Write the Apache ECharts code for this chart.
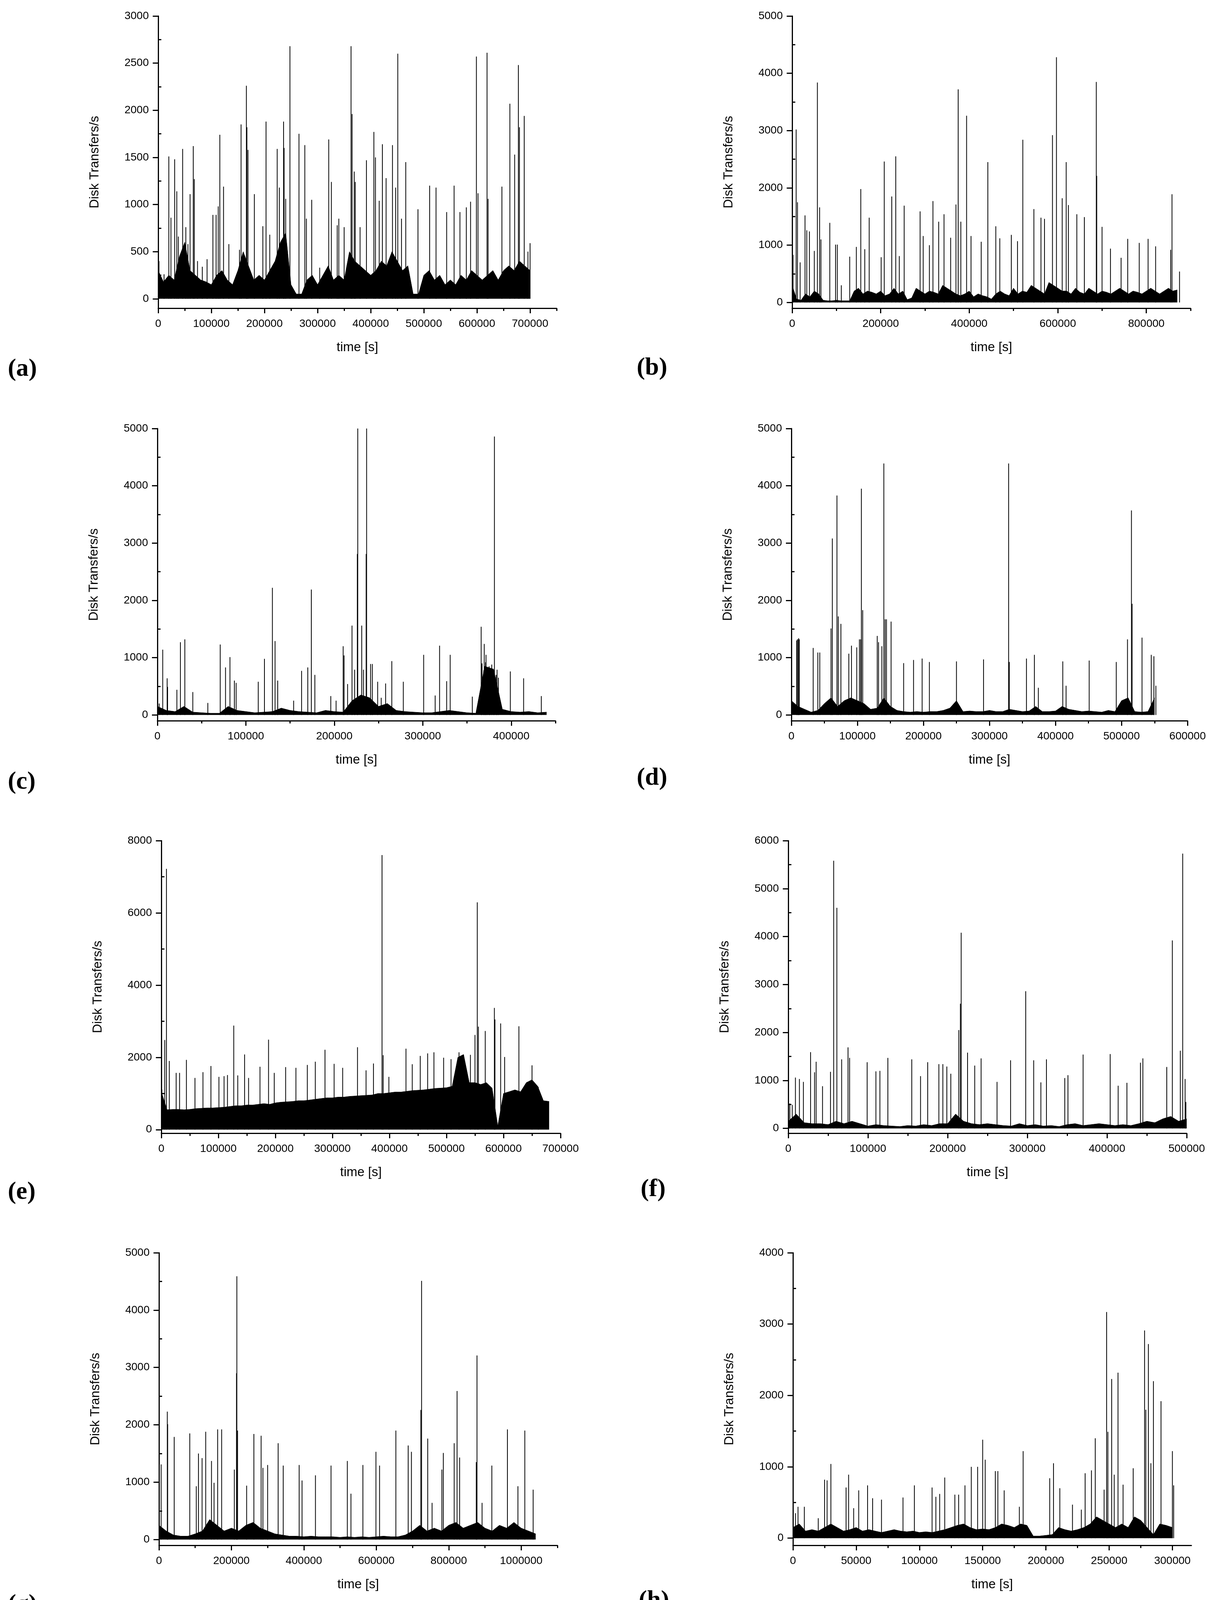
<!DOCTYPE html>
<html><head><meta charset="utf-8">
<script src="https://cdn.jsdelivr.net/npm/echarts@6/dist/echarts.min.js"></script>
<style>html,body{margin:0;padding:0;background:#fff}#c{width:3090px;height:5215px}</style>
</head><body><div id="c"></div>
<script>
// ---- data (time in s, value in Disk Transfers/s) ----
const aT=[1500,11000,20000,24000,31000,35000,38000,46000,52000,56000,60000,66000,68000,74000,83000,92000,103000,109000,113000,116000,123000,133000,153000,156000,166000,167000,169000,181000,197000,203000,210000,224000,228000,236000,237000,240000,248000,265000,276000,279000,289000,304000,321000,326000,337000,340000,350000,363000,365000,369000,371000,380000,392000,406000,409000,416000,422000,429000,441000,447000,451000,458000,466000,489000,511000,523000,543000,557000,568000,580000,588000,599000,602000,619000,621000,647000,662000,671000,678000,680000,689000,696000,700000];
const aV=[400,260,1510,860,1480,1140,660,1590,760,580,1110,1620,1270,400,340,420,890,890,980,1740,1190,580,520,1850,2260,1820,1580,1110,770,1880,680,1590,1180,1880,1600,1060,2680,1750,1630,850,1050,330,1690,1240,780,850,760,2680,1960,1350,1240,760,1470,1770,1500,1040,1640,1280,1630,1180,2600,850,1450,950,1200,1180,920,1200,920,970,1030,2570,1120,2610,1060,1190,2070,1530,2480,1820,1940,500,590];
const aBand=[300,180,250,200,450,600,300,250,200,180,150,250,300,200,150,300,500,350,200,250,200,300,400,600,700,150,50,50,200,250,150,250,350,200,250,200,500,400,350,300,250,300,400,350,500,400,300,350,50,50,250,300,200,250,150,200,150,250,200,300,250,200,250,300,200,300,350,300,400,350,300];

const bT=[2000,9000,12000,18000,29000,33000,39000,50000,57000,62000,65000,85000,98000,102000,111000,130000,145000,155000,164000,174000,201000,208000,225000,234000,242000,253000,289000,296000,310000,318000,331000,343000,358000,370000,375000,381000,394000,404000,427000,442000,460000,469000,495000,509000,521000,546000,562000,570000,588000,597000,610000,619000,624000,643000,660000,687000,688000,700000,719000,743000,758000,784000,804000,821000,855000,858000,875000];
const bV=[830,3020,1750,700,1520,1260,1240,900,3840,1660,1100,1390,1010,1010,300,800,970,1980,930,1480,790,2460,1850,2550,810,1690,1590,1160,1000,1770,1410,1540,1130,1710,3720,1410,3260,1160,1060,2450,1330,1120,1180,1070,2840,1630,1480,1460,2920,4280,1820,2450,1700,1540,1490,3850,2210,1320,940,780,1110,1040,1110,980,920,1890,540];
const bBand=[300,60,40,150,100,200,150,40,30,30,40,30,30,30,200,250,150,200,180,150,200,120,150,250,150,200,50,80,250,200,150,200,180,150,300,250,200,150,120,150,200,100,150,120,100,60,150,200,150,120,250,150,200,180,300,250,200,150,350,300,250,200,200,150,250,180,150,250,200,150,200,180,150,200,250,200,150,200,180,150,200,250,200,150,200,250,200,220];

const cT=[2000,6000,11000,11500,22000,26000,31000,40000,57000,71000,77000,82000,87000,89000,114000,121000,130000,133000,136000,154000,163000,170000,174000,178000,196000,202000,210000,211000,215000,220000,223000,226000,226500,231000,233000,236000,236500,241000,243000,249000,253000,258000,265000,278000,301000,314000,319000,327000,331000,356000,366000,367000,369000,369500,371000,371500,373000,375000,376000,378000,380000,381000,383000,384000,385500,399000,414000,434000];
const cV=[200,1140,640,490,440,1270,1320,400,210,1230,830,1010,600,560,580,980,2220,1290,600,250,770,830,2190,700,330,250,1200,1040,540,1560,790,2810,5000,1560,790,2810,5000,890,890,580,300,550,940,580,1050,340,1210,590,1050,320,1540,900,780,1240,920,1050,700,850,770,880,600,4860,700,790,650,760,640,330];
const cBand=[150,80,60,150,50,40,30,30,150,80,60,40,50,60,120,80,60,50,40,80,60,50,250,350,300,150,200,80,60,50,40,40,60,80,60,40,30,850,800,100,60,50,60,40,50];

const dT=[8000,9000,10500,11000,12000,33000,40000,43000,60000,62000,69000,71000,75000,87000,91000,99000,103000,105000,106000,108000,130000,132000,137000,140000,142000,144000,151000,170000,185000,198000,209000,250000,291000,329000,330000,356000,368000,374000,411000,416000,451000,492000,509000,515000,516000,531000,545000,549000,552000];
const dV=[1300,1320,1320,1340,1320,1170,1090,1090,1510,3080,3830,1720,1590,1070,1210,1180,1320,1320,3950,1830,1380,1270,1200,4390,1670,1670,1630,905,960,985,925,935,970,4390,925,985,1050,475,935,510,950,925,1320,3570,1940,1350,1050,1025,510];
const dBand=[250,150,100,50,80,200,300,150,250,300,250,200,100,120,300,150,80,60,50,60,50,60,60,80,120,250,60,70,60,60,80,60,60,100,80,60,70,150,60,60,70,150,100,80,60,70,60,50,80,60,250,300,60,50,60,300];

const eT=[1000,6000,9000,14000,26000,32000,44000,59000,73000,87000,101000,110000,116000,127000,134000,146000,153000,173000,188000,198000,218000,236000,256000,270000,287000,303000,318000,344000,359000,372000,387000,389000,399000,429000,440000,454000,467000,478000,495000,508000,522000,542000,550000,554000,556000,568000,584000,585000,595000,602000,627000,650000,661000];
const eV=[1110,2480,7220,1900,1570,1570,1930,1430,1590,1760,1460,1480,1510,2880,1500,2080,1430,1740,2490,1570,1730,1710,1790,1880,2210,1820,1710,2280,1640,1830,7600,2060,1460,2240,1810,2040,2110,2140,1990,1950,2140,2070,2620,6290,2850,2730,3370,3050,2940,2010,2860,1780,1180];
const eBand=[1050,550,560,560,550,560,580,590,600,600,610,620,640,660,660,680,680,700,720,700,740,760,770,780,800,800,820,840,860,880,880,900,900,920,930,940,950,960,1000,1000,1020,1040,1040,1060,1080,1090,1100,1120,1140,1150,1160,1200,2000,2080,1300,1300,1250,1300,1150,100,1000,1050,1100,1050,1300,1380,1200,800,780];

const fT=[2000,5000,9000,14000,19000,28000,33000,35000,43000,53000,57000,61000,67000,75000,77000,99000,110000,115000,125000,155000,166000,175000,189000,194000,199000,204000,214000,216000,217000,225000,234000,242000,262000,279000,298000,308000,317000,324000,347000,351000,370000,404000,414000,425000,442000,445000,475000,482000,492000,495000,498000,499000];
const fV=[520,490,1060,1030,970,1590,1170,1390,880,1180,5580,4600,1440,1690,1470,1380,1190,1200,1470,1440,1090,1380,1340,1340,1290,1140,2050,2600,4080,1580,1310,1460,970,1420,2860,1420,960,1440,1050,1110,1540,1550,890,950,1370,1460,1280,3920,1620,5730,1030,550];
const fBand=[150,300,120,100,100,80,150,100,150,100,50,80,60,50,40,60,50,80,60,100,100,300,150,100,80,100,80,60,50,100,60,80,50,60,40,80,100,60,80,100,80,60,80,60,100,150,120,200,250,150,200];

const gT=[6000,23000,24000,42000,85000,103000,109000,119000,129000,145000,152000,162000,173000,208000,214000,215000,217000,242000,262000,282000,287000,300000,329000,343000,387000,395000,432000,475000,520000,530000,563000,599000,609000,654000,688000,697000,723000,725000,742000,754000,781000,785000,815000,823000,830000,876000,878000,892000,919000,962000,991000,1010000,1033000];
const gV=[1310,2230,2010,1790,1850,930,1500,1420,1880,1370,990,1920,1920,1220,2900,4590,1900,940,1840,1810,1250,1300,1680,1290,1300,1030,1120,1290,1370,800,1300,1530,1290,1900,1640,1530,2260,4510,1760,640,1220,1510,1680,2590,1430,1350,3210,640,1290,1920,930,1900,870];
const gBand=[250,150,80,60,60,100,150,350,250,150,200,150,250,300,200,150,100,80,60,60,50,60,50,50,50,40,50,40,50,40,50,60,50,50,80,150,250,150,200,150,250,300,200,250,300,200,150,250,200,300,200,150,100];

const hT=[2000,4000,9000,20000,25000,27000,30000,42000,44000,48000,52000,59000,63000,70000,87000,96000,110000,113000,116000,120000,128000,131000,136000,141000,146000,150000,152000,160000,162000,167000,179000,182000,203000,206000,211000,221000,228000,231000,236000,239000,246000,248000,249000,252000,254000,257000,261000,269000,278000,279000,281000,283000,285000,291000,300000,301000];
const hV=[350,440,440,280,820,810,1040,710,890,420,670,740,560,540,570,740,710,580,620,850,610,610,740,1000,1000,1380,1100,940,940,670,440,1220,840,1050,700,470,400,910,950,1400,680,3170,1490,2230,890,2320,750,980,2910,1800,2720,1050,2200,1920,1220,740];
const hBand=[150,200,100,120,100,150,200,150,100,120,150,100,120,100,80,100,120,100,90,100,80,90,80,100,120,150,180,200,150,120,130,120,150,200,180,150,200,180,30,30,40,50,150,120,100,120,150,200,300,250,200,150,200,150,300,250,150,50,200,180,150];

const iT=[1000,11000,25000,31000,58000,70000,88000,102000,109000,119000,124000,128000,144000,147000,150000,170000,180000,190000,204000,221000,223000,234000,255000,278000,285000,293000,301000,307000,327000,334000,342000,362000,370000,377000,383000,396000,402000,417000,426000,435000,461000,466000,475000,486000,509000,528000,561000,582000,611000,623000,639000,659000,672000,677000,691000];
const iV=[1770,1370,1600,1730,1660,860,1360,910,1320,1390,1130,1320,1490,5000,820,1040,1660,1960,1240,2070,2900,1500,1410,1530,1520,2380,2490,1020,1790,1090,920,1200,1660,2320,1650,1470,1840,1440,2200,1650,1630,2170,1670,1650,2110,1130,1400,1510,1040,2320,1850,1290,2030,1290,560];
const iBand=[500,200,150,100,200,150,180,150,200,150,180,150,200,250,150,100,150,200,150,100,200,150,200,250,150,200,250,200,150,250,300,250,200,150,200,250,200,300,400,350,50,150,200,150,200,250,200,250,200,150,200,150,200,150,250,150,200,150,200,150,250,300,200,150,200,250,300,200,150,100];

const jT=[5000,12000,20000,26000,34000,61000,65000,75000,83000,95000,105000,126000,144000,158000,160000,169000,170000,180000,184000,191000,198000,203000,210000,242000,249000,259000,268000,291000,299000,320000,325000,342000,346000,355000,371000,389000,400000,411000,415000,433000,459000,463000,480000,488000,497000,499000,510000,517000];
const jV=[1010,2070,4050,1350,1370,2220,1390,1160,1160,960,5540,2070,1370,2130,3190,8000,4520,4610,1100,3860,2000,960,1010,1350,5000,2250,1500,1210,1280,4570,1370,4210,2810,1510,1320,1780,2000,4450,1680,3490,1640,4100,2420,1460,5220,1640,1420,2060];
const jBand=[80,200,60,250,60,50,60,50,50,60,60,50,80,60,50,60,80,50,70,60,50,60,60,50,80,100,200,300,250,500,600,700,800,600,700,800,500,600,400,900,1000,800,700,300,50,50,800,1000,900,300,200,250,150];

// ---- layout / config ----
const P=[
 {n:'(a)',T:aT,V:aV,B:aBand,st:10000,xMax:750000,xMaj:100000,yMax:3000,yMaj:500,g:[405,41,1425,789],lb:[20,951]},
 {n:'(b)',T:bT,V:bV,B:bBand,st:10000,xMax:900000,xMaj:200000,yMax:5000,yMaj:1000,g:[2028,41,3048,789],lb:[1630,948]},
 {n:'(c)',T:cT,V:cV,B:cBand,st:10000,xMax:450000,xMaj:100000,yMax:5000,yMaj:1000,g:[403,1097,1422,1845],lb:[20,2008]},
 {n:'(d)',T:dT,V:dV,B:dBand,st:10000,xMax:600000,xMaj:100000,yMax:5000,yMaj:1000,g:[2026,1097,3045,1845],lb:[1630,1998]},
 {n:'(e)',T:eT,V:eV,B:eBand,st:10000,xMax:700000,xMaj:100000,yMax:8000,yMaj:2000,g:[413,2152,1435,2901],lb:[20,3058]},
 {n:'(f)',T:fT,V:fV,B:fBand,st:10000,xMax:500000,xMaj:100000,yMax:6000,yMaj:1000,g:[2018,2152,3038,2901],lb:[1640,3051]},
 {n:'(g)',T:gT,V:gV,B:gBand,st:20000,xMax:1100000,xMaj:200000,yMax:5000,yMaj:1000,g:[407,3207,1427,3956],lb:[20,4114]},
 {n:'(h)',T:hT,V:hV,B:hBand,st:5000,xMax:315000,xMaj:50000,yMax:4000,yMaj:1000,g:[2030,3207,3050,3956],lb:[1635,4104]},
 {n:'(i)',T:iT,V:iV,B:iBand,st:10000,xMax:750000,xMaj:100000,yMax:5000,yMaj:1000,g:[409,4266,1429,5015],lb:[40,5169]},
 {n:'(j)',T:jT,V:jV,B:jBand,st:10000,xMax:550000,xMaj:100000,yMax:8000,yMaj:2000,g:[2009,4266,3029,5015],lb:[1640,5166]}
];
const FONT='"Liberation Sans", Arial, sans-serif';
function range(a,b,s){const r=[];for(let v=a;v<=b+1e-6;v+=s)r.push(v);return r;}
const plain=v=>String(Math.round(v));
const grid=[],xAxis=[],yAxis=[],series=[],graphic=[];
P.forEach((p,k)=>{
  grid.push({left:p.g[0],top:p.g[1],width:p.g[2]-p.g[0],height:p.g[3]-p.g[1],containLabel:false});
  const xMajV=range(0,p.xMax,p.xMaj);
  const xMinV=range(p.xMaj/2,p.xMax,p.xMaj);
  const yMajV=range(0,p.yMax,p.yMaj);
  const yMinV=range(p.yMaj/2,p.yMax,p.yMaj);
  const ax={color:'#000',fontSize:28,fontFamily:FONT,margin:26,formatter:plain};
  xAxis.push({gridIndex:k,type:'value',min:0,max:p.xMax,position:'bottom',
    axisLine:{onZero:false,lineStyle:{color:'#000',width:3}},
    axisTick:{customValues:xMajV,length:13,lineStyle:{color:'#000',width:3}},
    axisLabel:Object.assign({customValues:xMajV},ax),
    splitLine:{show:false},name:'time [s]',nameLocation:'middle',nameGap:84,
    nameTextStyle:{color:'#000',fontSize:33,fontFamily:FONT}});
  xAxis.push({gridIndex:k,type:'value',min:0,max:p.xMax,position:'bottom',
    axisLine:{show:false,onZero:false},axisTick:{customValues:xMinV,length:7,lineStyle:{color:'#000',width:3}},
    axisLabel:{show:false},splitLine:{show:false}});
  yAxis.push({gridIndex:k,type:'value',min:-100,max:p.yMax,
    axisLine:{show:true,lineStyle:{color:'#000',width:3}},
    axisTick:{show:true,customValues:yMajV,length:14,lineStyle:{color:'#000',width:3}},
    axisLabel:Object.assign({customValues:yMajV},ax,{margin:24}),
    splitLine:{show:false},name:'Disk Transfers/s',nameLocation:'middle',nameGap:146,
    nameTextStyle:{color:'#000',fontSize:33,fontFamily:FONT}});
  yAxis.push({gridIndex:k,type:'value',min:-100,max:p.yMax,
    axisLine:{show:false},axisTick:{show:true,customValues:yMinV,length:8,lineStyle:{color:'#000',width:3}},
    axisLabel:{show:false},splitLine:{show:false}});
  series.push({type:'line',xAxisIndex:2*k,yAxisIndex:2*k,data:p.B.map((v,i)=>[i*p.st,v]),
    symbol:'none',lineStyle:{color:'#000',width:1},areaStyle:{color:'#000',opacity:1,origin:0},z:2});
  series.push({type:'bar',xAxisIndex:2*k,yAxisIndex:2*k,data:p.T.map((t,i)=>[t,p.V[i]]),
    barWidth:2,itemStyle:{color:'#000'},z:3});
  graphic.push({type:'text',left:p.lb[0],top:p.lb[1]-38,
    style:{text:p.n,font:'bold 64px "Liberation Serif", "DejaVu Serif", serif',fill:'#000'}});
});
const chart=echarts.init(document.getElementById('c'),null,{renderer:'canvas'});
chart.setOption({animation:false,backgroundColor:'#fff',grid,xAxis,yAxis,series,graphic});
</script></body></html>
